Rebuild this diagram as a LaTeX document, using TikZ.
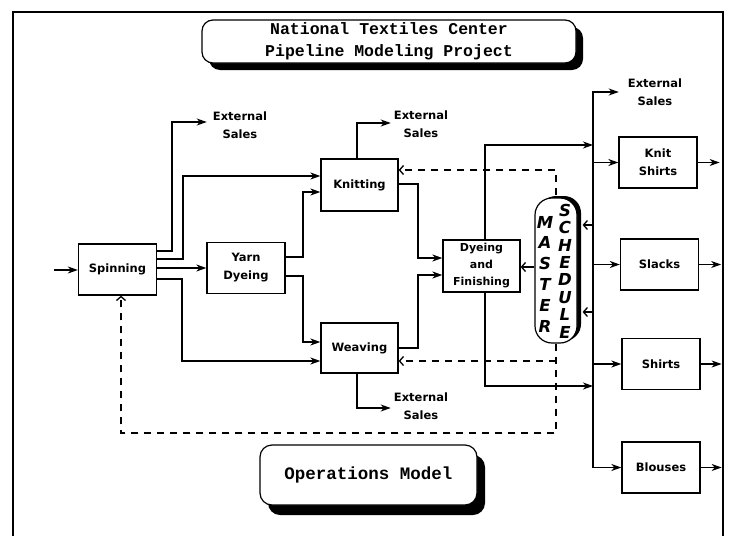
\documentclass[tikz,border=0pt]{standalone}
\usepackage{fontspec}
\newfontfamily\lblfont{DejaVu Sans}
\newfontfamily\ttlfont{Liberation Mono}
\newfontfamily\handfont{DejaVu Sans}
\usetikzlibrary{arrows.meta,calc,shadows}
\begin{document}
\begin{tikzpicture}[x=1pt,y=-1pt,
  box/.style={draw,line width=1.3pt,fill=white,minimum width=78pt,minimum height=51pt,inner sep=0pt,
    font=\lblfont\bfseries\fontsize{11.5}{18}\selectfont,align=center},
  lbl/.style={font=\lblfont\bfseries\fontsize{11.5}{18}\selectfont,align=center,inner sep=0pt},
  ln/.style={line width=1.3pt},
  arr/.style={line width=1.3pt,-{Stealth[length=10pt,width=7pt,inset=3pt]}},
  carr/.style={line width=1.3pt,-{Straight Barb[length=4pt,width=9pt]}},
  darr/.style={line width=1.3pt,dash pattern=on 7pt off 6pt,-{Straight Barb[length=4pt,width=9pt]}},
  rbox/.style={draw,line width=1.2pt,fill=white,rounded corners=11pt,inner sep=0pt,align=center},
  hand/.style={font=\handfont\bfseries\itshape\fontsize{16.5}{#1}\selectfont,align=center,inner sep=0pt}
]
\useasboundingbox (0,0) rectangle (729,536);
% frame
\draw[line width=1.2pt] (13,536) -- (13,12) -- (723,12) -- (723,536);

% title boxes
\node[rbox,minimum width=374pt,minimum height=43pt,
  drop shadow={shadow xshift=7pt,shadow yshift=-7pt,fill=black,opacity=1},
  font=\ttlfont\bfseries\fontsize{16.5}{22}\selectfont] (title) at (389,41.5)
  {National Textiles Center\\Pipeline Modeling Project};
\node[rbox,minimum width=217pt,minimum height=60pt,rounded corners=12pt,
  drop shadow={shadow xshift=8pt,shadow yshift=-10pt,fill=black,opacity=1},
  font=\ttlfont\bfseries\fontsize{17.5}{20}\selectfont] (ops) at (368.5,475)
  {Operations Model};

% process boxes
\node[box] (spin) at (117.5,269.5) {Spinning};
\node[box] (yarn) at (246,268) {Yarn\\Dyeing};
\node[box,minimum width=77pt,minimum height=52pt] (knit) at (359.5,185) {Knitting};
\node[box,minimum width=77pt,minimum height=50pt] (weave) at (359.5,348) {Weaving};
\node[box,minimum width=77pt,minimum height=52pt,font=\lblfont\bfseries\fontsize{11}{17}\selectfont] (dye) at (481.5,266) {Dyeing\\and\\Finishing};
\node[box] (ks) at (658,162.5) {Knit\\Shirts};
\node[box] (slacks) at (659.5,264.5) {Slacks};
\node[box] (shirts) at (661,364) {Shirts};
\node[box] (blouses) at (661,467.5) {Blouses};

% master schedule
\node[draw,line width=1.2pt,fill=white,rounded corners=17pt,minimum width=42pt,minimum height=145pt,
  drop shadow={shadow xshift=4pt,shadow yshift=2pt,fill=black,opacity=1}] (master) at (556,270.5) {};
\node[hand=20.8] (mlbl) at (545,274) {M\\A\\S\\T\\E\\R};
\node[hand=17.4] (slbl) at (565,271) {S\\C\\H\\E\\D\\U\\L\\E};

% external sales labels
\node[lbl] (ext1) at (240,125) {External\\Sales};
\node[lbl] (ext2) at (421,124) {External\\Sales};
\node[lbl] (ext3) at (421,406) {External\\Sales};
\node[lbl] (ext4) at (655,92) {External\\Sales};

% input
\coordinate (in) at (54,270);
\draw[arr] (in) -- (in -| spin.west);

% spinning outputs
\draw[arr] (spin.east |- 0,251) -| (172,122) -- ($(ext1.west)+(-6,-3)$);
\draw[arr] (spin.east |- 0,259) -| (183,176) -- (knit.west |- 0,176);
\draw[arr] (spin.east |- 0,268) -- (yarn.west |- 0,268);
\draw[arr] (spin.east |- 0,279) -| (182,361) -- (weave.west |- 0,361);

% yarn dyeing outputs
\draw[arr] (yarn.east |- 0,257) -| (303,192) -- (knit.west |- 0,192);
\draw[arr] (yarn.east |- 0,276) -| (303,342) -- (weave.west |- 0,342);

% knitting / weaving outputs
\draw[arr] (knit.north -| 357,0) |- ($(ext2.west)+(-3,-1)$);
\draw[arr] (knit.east |- 0,184) -| (418,258) -- (dye.west |- 0,258);
\draw[arr] (weave.east |- 0,348) -| (418,275) -- (dye.west |- 0,275);
\draw[arr] (weave.south -| 357,0) |- ($(ext3.west)+(-3,2)$);

% dyeing and finishing outputs
\coordinate (bt) at (593,92);
\draw[arr] (dye.north -| 485,0) |- (bt |- 0,145);
\draw[arr] (dye.south -| 485,0) |- (bt |- 0,386);

% bus to products
\draw[ln,line cap=rect] (bt) -- (blouses.west -| bt);
\draw[arr] (bt) -- ($(ext4.west)+(-9,0)$);
\draw[arr] (ks.west -| bt) -- (ks.west);
\draw[arr] (slacks.west -| bt) -- (slacks.west);
\draw[arr] (shirts.west -| bt) -- (shirts.west);
\draw[arr] (blouses.west -| bt) -- (blouses.west);

% product outputs
\draw[arr] (ks.east) -- ++(22,0);
\draw[arr] (slacks.east) -- ++(22,0);
\draw[arr] (shirts.east) -- ++(21,0);
\draw[arr] (blouses.east) -- ++(21,0);

% schedule links
\draw[carr] (bt |- 0,225) -- ($(master.east |- 0,225)+(5,0)$);
\draw[carr] (bt |- 0,312) -- ($(master.east |- 0,312)+(5,0)$);
\draw[carr] (master.west |- 0,267) -- (dye.east |- 0,267);

% dashed feedback
\draw[darr] ($(master.north)+(0,-2)$) |- (knit.east |- 0,170);
\draw[darr] (master.south) -- (master.south |- 0,433) -| (spin.south -| 121,0);
\draw[darr] (master.south |- 0,361) -- (weave.east |- 0,361);
\end{tikzpicture}
\end{document}
